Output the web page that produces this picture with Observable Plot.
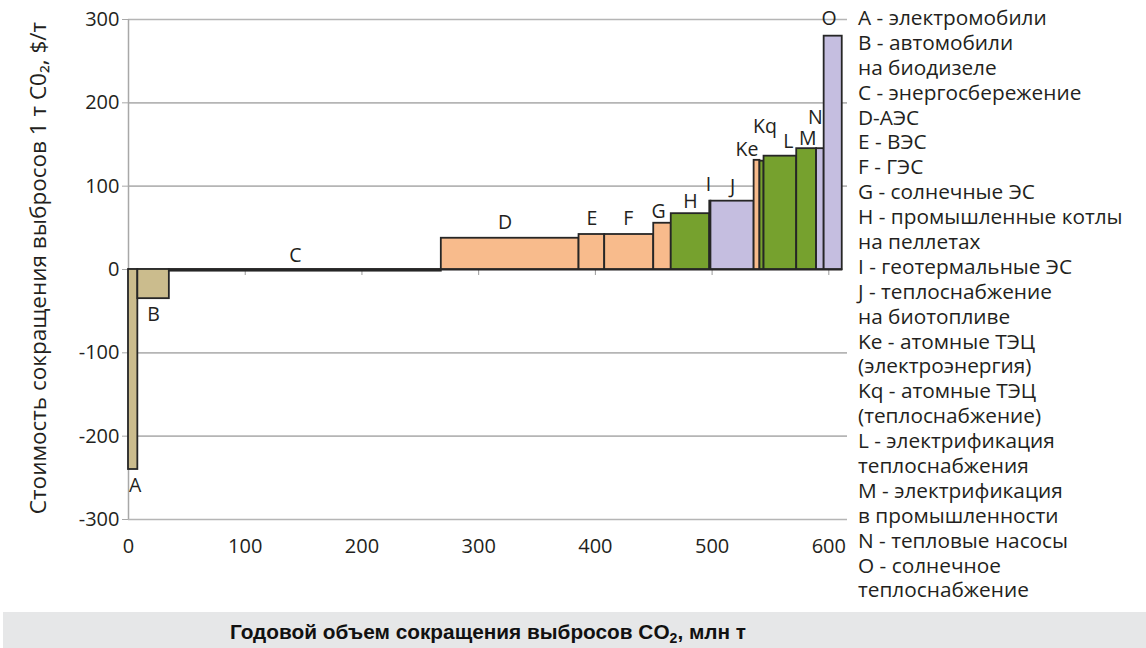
<!DOCTYPE html>
<html><head><meta charset="utf-8">
<script src="https://cdn.jsdelivr.net/npm/d3@7"></script>
<script src="https://cdn.jsdelivr.net/npm/@observablehq/plot@0.6"></script>
<style>
body{margin:0;background:#fff;}
#wrap{position:relative;width:1146px;height:648px;overflow:hidden;background:#fff;font-family:"Open Sans",sans-serif;color:#231f20;}
#chart{position:absolute;left:0;top:0;}
#legend{position:absolute;left:858px;top:5px;font-size:20.8px;line-height:24.9px;white-space:nowrap;}
#legend div{height:24.9px;}
#band{position:absolute;left:3px;top:612px;width:1143px;height:36px;background:#e6e7e8;}
#xtitle{position:absolute;left:0;top:612px;width:976px;height:36px;line-height:39px;text-align:center;font-family:"Liberation Sans Narrow","Liberation Sans",sans-serif;font-weight:bold;font-size:20.8px;color:#111;}
</style></head>
<body><div id="wrap"><div id="chart"></div><div id="legend"></div><div id="band"></div><div id="xtitle"></div></div>
<script>
const codes  = ["A","B","C","D","E","F","G","H","I","J","Ke","Kq","L","M","N","O"];
const starts = [0, 8, 35, 268, 386, 408, 450, 465, 498, 499, 536, 541, 544.5, 572.5, 589.5, 596];
const ends   = [8, 35, 268, 386, 408, 450, 465, 498, 499, 536, 541, 544.5, 572.5, 589.5, 596, 611.5];
const costs  = [-240, -35, -2, 37.5, 42, 42, 55.5, 67, 82, 82, 131, 130, 136, 145, 145, 280];
const groups = ["tan","tan","line","orange","orange","orange","orange","green","lilac","lilac","orange","green","green","green","lilac","lilac"];
const xTicks = [0, 100, 200, 300, 400, 500, 600];
const yTicks = [-300, -200, -100, 0, 100, 200, 300];
const legendLines = [
  "A - электромобили","B - автомобили","на биодизеле","C - энергосбережение","D-АЭС","E - ВЭС","F - ГЭС",
  "G - солнечные ЭС","H - промышленные котлы","на пеллетах","I - геотермальные ЭС","J - теплоснабжение",
  "на биотопливе","Ke - атомные ТЭЦ","(электроэнергия)","Kq - атомные ТЭЦ","(теплоснабжение)",
  "L - электрификация","теплоснабжения","M - электрификация","в промышленности","N - тепловые насосы",
  "O - солнечное","теплоснабжение"
];
const yLabel = "Стоимость сокращения выбросов 1 т С0₂, $/т";
const xTitle = "Годовой объем сокращения выбросов CO";

const colors = {tan:"#cbbc8d", orange:"#f8bb8c", green:"#76a12e", lilac:"#c5bee0", line:"#231f20"};
// label nudges in pixels (style only)
const nudge = {A:[2,16],B:[0,16],C:[-10,-15],D:[-5,-16],E:[0,-16],F:[-1,-16],G:[-4,-12],H:[0,-12],I:[-2,-16],J:[0,-14],Ke:[-10,-11],Kq:[3,-34],L:[8,-14],M:[1,-10],N:[-5,-31],O:[-4,-17]};

const data = codes.map((c,i)=>({code:c, x1:starts[i], x2:ends[i], y:costs[i], g:groups[i], xm:(starts[i]+ends[i])/2}));

const marks = [
  Plot.gridY(yTicks.filter(d => d !== 0), {stroke: "#b5b5b5", strokeOpacity: 1, strokeWidth: 1.6}),
  Plot.ruleX([0], {y1: -300, y2: 300, stroke: "#a8a8a8", strokeWidth: 1.5}),
  Plot.axisY(yTicks, {tickSize: 6, tickPadding: 3, stroke: "#a8a8a8", fontSize: 20, tickFormat: d => String(d), label: null}),
  Plot.axisX(xTicks, {anchor: "bottom", tickSize: 0, tickPadding: 19, fontSize: 20, label: null, tickFormat: d => String(d)}),
  Plot.axisX(xTicks, {anchor: "bottom", tickSize: 6, tickFormat: () => "", stroke: "#999", dy: -250, label: null}),
  Plot.ruleY([0], {x1: 0, x2: 612, stroke: "#231f20", strokeWidth: 2}),
  Plot.rectY(data, {x1: "x1", x2: "x2", y1: 0, y2: "y", fill: d => colors[d.g], stroke: "#262626", strokeWidth: 1.8}),
  ...codes.map((c,i) => Plot.text([data[i]], {x: "xm", y: "y", text: "code", fontSize: 19.5, fill: "#231f20", dx: nudge[c][0], dy: nudge[c][1]}))
];

const chart = Plot.plot({
  width: 850, height: 570,
  marginLeft: 128, marginRight: 3, marginTop: 19, marginBottom: 51,
  style: {fontFamily: "Open Sans, sans-serif", fontSize: "20px", color: "#231f20", background: "transparent", overflow: "visible"},
  x: {domain: [0, 616]},
  y: {domain: [-300, 300]},
  marks
});
document.getElementById("chart").appendChild(chart);

// rotated y-axis title
d3.select(chart).append("text")
  .attr("transform", "translate(40,268) rotate(-90)")
  .attr("text-anchor", "middle").attr("dominant-baseline", "middle")
  .attr("font-size", 22.5).attr("fill", "#231f20").attr("font-family", "Open Sans, sans-serif")
  .text(yLabel);

const lg = document.getElementById("legend");
legendLines.forEach(t => { const d = document.createElement("div"); d.textContent = t; lg.appendChild(d); });

const xt = document.getElementById("xtitle");
xt.textContent = xTitle;
const sub = document.createElement("span");
sub.textContent = "2"; sub.style.fontSize = "14px"; sub.style.position = "relative"; sub.style.top = "4px";
xt.appendChild(sub);
xt.appendChild(document.createTextNode(", млн т"));
</script></body></html>
